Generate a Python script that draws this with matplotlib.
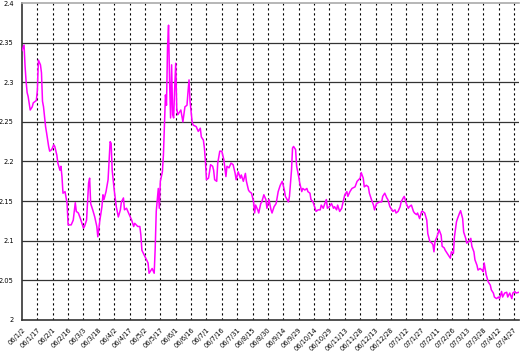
import datetime as dt
import matplotlib
matplotlib.use("Agg")
import matplotlib.pyplot as plt

# days after 2006-01-02 and the rate
start = dt.date(2006, 1, 2)
days = [0, 2, 3, 4, 5, 6, 8, 10, 11, 14, 15, 16, 18, 19, 20, 21, 22, 23, 24, 26,
        27, 29, 31, 32, 34, 35, 37, 38, 39, 40, 42, 44, 45, 48, 50, 52, 53, 55, 57, 60,
        61, 63, 65, 66, 67, 69, 71, 73, 74, 76, 78, 79, 80, 82, 84, 85, 86, 87, 88, 90,
        92, 94, 96, 97, 99, 100, 102, 104, 107, 109, 110, 113, 115, 116, 117, 120, 123, 124, 125, 127,
        129, 130, 131, 133, 134, 135, 137, 138, 139, 140, 141, 142, 143, 144, 145, 146, 147, 148, 149, 150,
        151, 152, 155, 157, 159, 161, 162, 163, 164, 166, 167, 170, 172, 174, 175, 177, 178, 179, 180, 182,
        183, 184, 186, 187, 188, 190, 191, 193, 195, 197, 199, 200, 202, 204, 206, 208, 209, 211, 213, 214,
        216, 218, 219, 221, 222, 224, 226, 227, 228, 230, 231, 233, 234, 236, 238, 239, 241, 243, 244, 246,
        248, 250, 252, 254, 256, 257, 260, 261, 263, 264, 265, 267, 268, 270, 271, 273, 274, 276, 278, 279,
        281, 282, 284, 286, 287, 289, 291, 292, 294, 295, 297, 298, 300, 302, 304, 305, 307, 308, 310, 312,
        313, 315, 317, 318, 320, 322, 325, 327, 330, 331, 333, 334, 336, 338, 339, 341, 343, 344, 346, 349,
        351, 352, 354, 356, 357, 359, 360, 362, 364, 365, 367, 369, 370, 372, 373, 375, 377, 378, 380, 382,
        383, 385, 386, 388, 390, 391, 393, 395, 396, 398, 400, 401, 402, 403, 405, 407, 409, 410, 412, 413,
        415, 417, 418, 419, 421, 422, 424, 425, 427, 428, 430, 431, 433, 434, 436, 438, 439, 441, 442, 444,
        445, 447, 449, 450, 451, 453, 455, 457, 458, 460, 461, 463, 465, 466, 468, 469, 471, 473, 474, 476,
        478, 479, 481, 482, 485]
rate = [2.340, 2.347, 2.320, 2.301, 2.287, 2.282, 2.265, 2.269, 2.274, 2.277, 2.290, 2.328, 2.322, 2.312, 2.276, 2.269, 2.257, 2.244, 2.236, 2.219,
        2.213, 2.215, 2.221, 2.219, 2.208, 2.198, 2.189, 2.194, 2.181, 2.160, 2.162, 2.147, 2.120, 2.120, 2.126, 2.148, 2.137, 2.135, 2.128, 2.116,
        2.118, 2.126, 2.173, 2.179, 2.147, 2.139, 2.130, 2.118, 2.105, 2.126, 2.143, 2.158, 2.152, 2.162, 2.177, 2.202, 2.225, 2.223, 2.189, 2.164,
        2.143, 2.130, 2.139, 2.149, 2.154, 2.139, 2.141, 2.135, 2.126, 2.118, 2.122, 2.118, 2.118, 2.107, 2.088, 2.080, 2.072, 2.059, 2.061, 2.065,
        2.059, 2.091, 2.137, 2.166, 2.141, 2.175, 2.187, 2.208, 2.246, 2.284, 2.271, 2.343, 2.372, 2.301, 2.255, 2.322, 2.259, 2.255, 2.293, 2.324,
        2.267, 2.259, 2.265, 2.250, 2.269, 2.271, 2.288, 2.303, 2.276, 2.250, 2.246, 2.244, 2.238, 2.242, 2.231, 2.227, 2.217, 2.200, 2.177, 2.179,
        2.187, 2.196, 2.194, 2.189, 2.177, 2.175, 2.198, 2.213, 2.213, 2.202, 2.181, 2.194, 2.192, 2.198, 2.196, 2.185, 2.177, 2.187, 2.179, 2.183,
        2.175, 2.185, 2.175, 2.164, 2.162, 2.160, 2.149, 2.135, 2.145, 2.139, 2.135, 2.147, 2.149, 2.158, 2.152, 2.141, 2.152, 2.139, 2.135, 2.143,
        2.147, 2.162, 2.170, 2.175, 2.164, 2.156, 2.149, 2.156, 2.189, 2.217, 2.219, 2.215, 2.194, 2.181, 2.173, 2.162, 2.166, 2.164, 2.166, 2.162,
        2.160, 2.152, 2.149, 2.141, 2.137, 2.139, 2.139, 2.145, 2.141, 2.145, 2.152, 2.141, 2.143, 2.147, 2.141, 2.143, 2.139, 2.145, 2.137, 2.141,
        2.147, 2.158, 2.162, 2.156, 2.162, 2.166, 2.168, 2.175, 2.179, 2.186, 2.179, 2.168, 2.170, 2.168, 2.160, 2.152, 2.145, 2.139, 2.147, 2.149,
        2.149, 2.156, 2.160, 2.154, 2.152, 2.143, 2.141, 2.137, 2.139, 2.135, 2.137, 2.143, 2.149, 2.154, 2.156, 2.147, 2.141, 2.143, 2.145, 2.137,
        2.135, 2.133, 2.135, 2.128, 2.137, 2.137, 2.135, 2.126, 2.109, 2.099, 2.097, 2.095, 2.086, 2.099, 2.105, 2.114, 2.107, 2.093, 2.091, 2.088,
        2.084, 2.080, 2.078, 2.086, 2.084, 2.105, 2.124, 2.128, 2.135, 2.138, 2.128, 2.111, 2.103, 2.097, 2.099, 2.103, 2.093, 2.086, 2.076, 2.069,
        2.063, 2.065, 2.063, 2.061, 2.072, 2.057, 2.048, 2.044, 2.038, 2.034, 2.029, 2.027, 2.029, 2.027, 2.036, 2.029, 2.034, 2.035, 2.029, 2.034,
        2.027, 2.034, 2.036, 2.034, 2.035]

y_ticks = [2, 2.05, 2.1, 2.15, 2.2, 2.25, 2.3, 2.35, 2.4]
y_labels = ["2", "2.05", "2.1", "2.15", "2.2", "2.25", "2.3", "2.35", "2.4"]

dates = [start + dt.timedelta(days=d) for d in days]
x_ticks = [start + dt.timedelta(days=15 * i) for i in range(33)]
x_labels = [f"{t.year % 100:02d}/{t.month}/{t.day}" for t in x_ticks]

plt.rcParams["lines.scale_dashes"] = False
fig = plt.figure(figsize=(5.2, 3.53), dpi=100)
ax = fig.add_axes([22 / 520, 33 / 353, 497 / 520, 317 / 353])

for t in x_ticks[1:]:
    ax.axvline(t, color="black", lw=0.8, dashes=(1.6, 2.0), zorder=1)
for v in y_ticks[1:-1]:
    ax.axhline(v, color="#333333", lw=0.9, zorder=1)

ax.plot(dates, rate, color="#ff00ff", lw=1.1, zorder=3)

ax.set_xlim(start, start + dt.timedelta(days=485))
ax.set_ylim(2, 2.4)
ax.set_yticks(y_ticks)
ax.set_yticklabels(y_labels, fontsize=4.8)
ax.set_xticks(x_ticks)
ax.set_xticklabels(x_labels, fontsize=4.8, rotation=45, ha="right", va="top",
                   rotation_mode="anchor")
ax.tick_params(axis="y", length=0, pad=6)
ax.tick_params(axis="x", length=0, pad=5)

for side in ["left", "bottom"]:
    ax.spines[side].set_color("#333333")
    ax.spines[side].set_linewidth(1.2)
ax.spines["top"].set_color("#aaaaaa")
ax.spines["top"].set_linewidth(1.2)
ax.spines["right"].set_visible(False)

fig.savefig("out.png", dpi=100)
